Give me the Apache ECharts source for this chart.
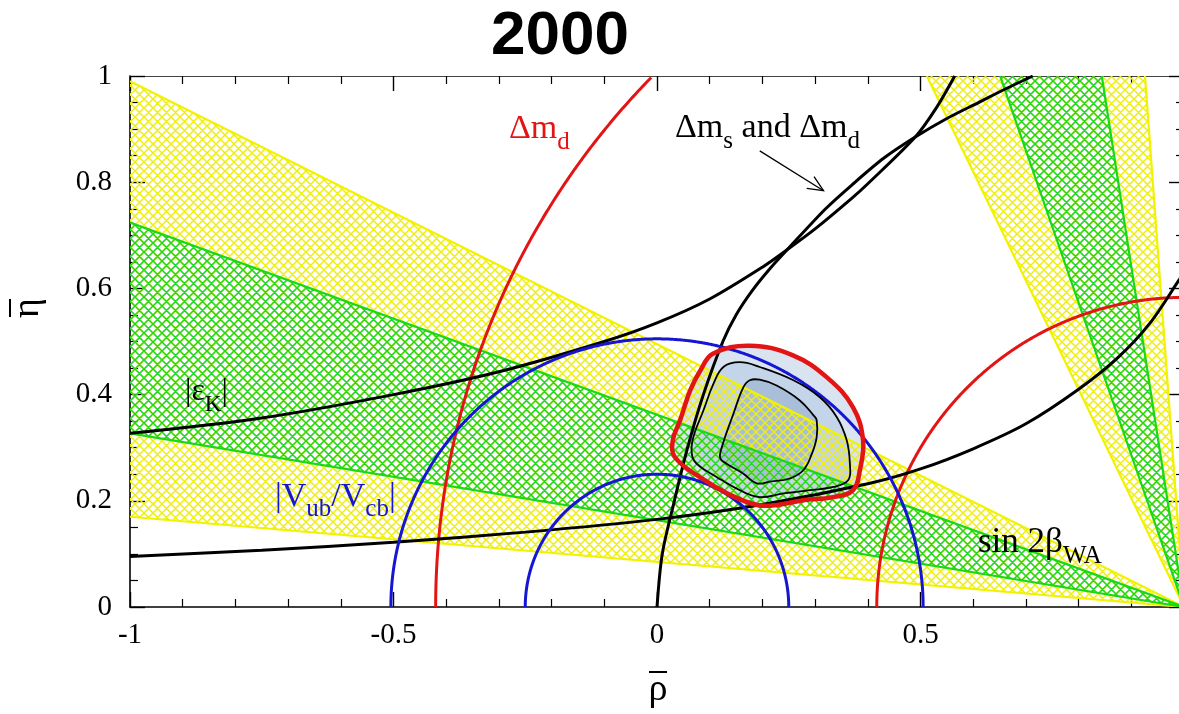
<!DOCTYPE html>
<html><head><meta charset="utf-8">
<script src="https://cdn.jsdelivr.net/npm/echarts@6/dist/echarts.min.js"></script>
<style>html,body{margin:0;padding:0;background:#fff;overflow:hidden}#c{width:1187px;height:714px}</style>
</head><body><div id="c"></div>
<script>
// ---------------- DATA ----------------
const title = '2000';
const xTickValues = [-1, -0.5, 0, 0.5, 1];
const yTickValues = [0, 0.2, 0.4, 0.6, 0.8, 1];

// sin 2beta wedges: polygon vertices (rho, eta), apex at (1,0)
const sin2bYellowLow  = [[-1, 0.99], [1, 0], [-1, 0.17]];
const sin2bGreenLow   = [[-1, 0.724], [1, 0], [-1, 0.327]];
const sin2bYellowHigh = [[0.512, 1], [1, 0], [0.926, 1]];
const sin2bGreenHigh  = [[0.651, 1], [1, 0], [0.844, 1]];

// |eps_K| hyperbola boundaries
const epsKLower = [[-1,0.095],[-0.75,0.107],[-0.5,0.122],[-0.25,0.141],[0,0.165],[0.2,0.193],[0.4,0.232],[0.5,0.26],[0.6,0.298],[0.7,0.345],[0.8,0.41],[0.875,0.47],[0.935,0.534],[0.99,0.615],[1,0.632]];
const epsKUpper = [[-1,0.327],[-0.75,0.356],[-0.5,0.400],[-0.3,0.443],[-0.1,0.50],[0,0.535],[0.1,0.58],[0.2,0.64],[0.25,0.675],[0.3,0.712],[0.37,0.77],[0.4,0.797],[0.49,0.885],[0.53,0.94],[0.565,1.0]];
// Delta m_s and Delta m_d bound
const dmsCurve = [[0,0],[0.01,0.1],[0.033,0.2],[0.058,0.3],[0.088,0.4],[0.125,0.5],[0.15,0.55],[0.18,0.595],[0.215,0.638],[0.25,0.676],[0.32,0.75],[0.37,0.795],[0.43,0.845],[0.49,0.885],[0.55,0.92],[0.61,0.95],[0.66,0.975],[0.713,1.0]];

// circles: centre and radius
const dmdCentre = [1, 0];
const dmdRadii = [1.42, 0.583];
const vubCentre = [0, 0];
const vubRadii = [0.25, 0.505];

// fit contours
const contourOuter = [[0.106,0.477],[0.176,0.492],[0.258,0.474],[0.323,0.432],[0.372,0.376],[0.391,0.314],[0.385,0.258],[0.372,0.220],[0.334,0.207],[0.277,0.201],[0.228,0.192],[0.190,0.192],[0.139,0.211],[0.082,0.244],[0.034,0.282],[0.030,0.314],[0.044,0.352],[0.063,0.408],[0.082,0.445]];
const contourMiddle = [[0.126,0.452],[0.157,0.461],[0.195,0.452],[0.259,0.427],[0.309,0.395],[0.341,0.358],[0.360,0.314],[0.366,0.270],[0.363,0.239],[0.335,0.226],[0.290,0.220],[0.240,0.214],[0.195,0.207],[0.157,0.220],[0.113,0.245],[0.075,0.270],[0.066,0.289],[0.069,0.320],[0.088,0.370],[0.107,0.420]];
const contourInner = [[0.176,0.427],[0.195,0.428],[0.227,0.417],[0.271,0.389],[0.297,0.361],[0.303,0.352],[0.303,0.320],[0.294,0.289],[0.278,0.258],[0.252,0.242],[0.214,0.236],[0.189,0.233],[0.164,0.251],[0.132,0.270],[0.120,0.280],[0.123,0.301],[0.145,0.364],[0.164,0.414]];

// annotation arrow (tail, head)
const arrowTail = [0.195, 0.859];
const arrowHead = [0.316, 0.784];

// label texts: [piece, isSubscript]
const labelDmd   = [['Δm', 0], ['d', 1]];
const labelDmsDmd= [['Δm', 0], ['s', 1], [' and Δm', 0], ['d', 1]];
const labelEpsK  = [['|ε', 0], ['K', 1], ['|', 0]];
const labelVub   = [['|V', 0], ['ub', 1], ['/V', 0], ['cb', 1], ['|', 0]];
const labelSin2b = [['sin 2β', 0], ['WA', 1]];

// ---------------- STYLE / LAYOUT ----------------
const RED = '#e31414', BLUE = '#1616d2', YEL = '#f2f200', GRN = '#18d818', BLK = '#000';
const SERIF = '"Liberation Serif", "Times New Roman", serif';

function hatch(color, s, lw) {
  const c = document.createElement('canvas'); c.width = s; c.height = s;
  const g = c.getContext('2d'); g.strokeStyle = color; g.lineWidth = lw;
  g.beginPath();
  for (const k of [-s, 0, s]) { g.moveTo(k, 0); g.lineTo(k + s, s); g.moveTo(k + s, 0); g.lineTo(k, s); }
  g.stroke(); return c;
}
const yelPat = { image: hatch('#eeee10', 9, 1.5), repeat: 'repeat' };
const grnPat = { image: hatch('#22d622', 9, 1.5), repeat: 'repeat' };

function polySeries(pts, style, z, smooth, closed) {
  return { type: 'custom', coordinateSystem: 'cartesian2d', z: z, silent: true, clip: true, animation: false,
    data: [0],
    renderItem: (p, api) => ({ type: closed ? 'polygon' : 'polyline',
      shape: { points: pts.map(q => api.coord(q)), smooth: smooth || 0 }, style: style }) };
}
function lineSeries(pts, color, width, z) {
  return { type: 'line', data: pts, smooth: 0.3, showSymbol: false, symbol: 'none', z: z, silent: true,
    animation: false, lineStyle: { color: color, width: width }, clip: true };
}
function circleSeries(centre, r, color, width, z) {
  return { type: 'custom', coordinateSystem: 'cartesian2d', z: z, silent: true, clip: true, animation: false,
    data: [0],
    renderItem: (p, api) => {
      const pts = [];
      for (let a = 0; a <= 180; a += 0.2) {
        const t = a * Math.PI / 180;
        const x = centre[0] + r * Math.cos(t), y = centre[1] + r * Math.sin(t);
        if (x >= -1 && x <= 1 && y >= 0 && y <= 1) pts.push(api.coord([x, y]));
      }
      return { type: 'polyline', shape: { points: pts }, style: { stroke: color, lineWidth: width, fill: null } };
    } };
}

const mctx = document.createElement('canvas').getContext('2d');
function textWidth(t, font) { mctx.font = font; return mctx.measureText(t).width; }
function labelGroup(parts, x, y, color, size, subSize, subDy) {
  const children = []; let cx = 0;
  for (const [t, sub] of parts) {
    const fs = sub ? subSize : size;
    const font = fs + 'px ' + SERIF;
    children.push({ type: 'text', x: cx, y: sub ? subDy : 0, z: 100, zlevel: 1,
      style: { text: t, fill: color, font: font, textAlign: 'left', textVerticalAlign: 'middle' } });
    cx += textWidth(t, font);
  }
  return { type: 'group', x: x, y: y, z: 100, zlevel: 1, children: children };
}

const axisCommon = {
  type: 'value', splitLine: { show: false },
  axisLine: { onZero: false, lineStyle: { color: BLK, width: 1.6 } },
  axisTick: { inside: true, length: 15, lineStyle: { color: BLK, width: 1.4 } },
  minorTick: { show: true, length: 8, lineStyle: { color: BLK, width: 1.2 } }
};

const series = [
  // contour fills
  polySeries(contourOuter, { fill: '#dae4f1', stroke: null }, 1, 0.4, true),
  polySeries(contourMiddle, { fill: '#c4d4e9', stroke: null }, 1, 0.4, true),
  polySeries(contourInner, { fill: '#a9bed8', stroke: null }, 1, 0.4, true),
  // hatched wedges
  polySeries(sin2bYellowLow, { fill: yelPat, stroke: null }, 2, 0, true),
  polySeries(sin2bYellowHigh, { fill: yelPat, stroke: null }, 2, 0, true),
  polySeries(sin2bGreenLow, { fill: grnPat, stroke: null }, 3, 0, true),
  polySeries(sin2bGreenHigh, { fill: grnPat, stroke: null }, 3, 0, true),
  // wedge edges
  polySeries(sin2bYellowLow, { fill: null, stroke: YEL, lineWidth: 2.2 }, 4, 0, false),
  polySeries(sin2bYellowHigh, { fill: null, stroke: YEL, lineWidth: 2.2 }, 4, 0, false),
  polySeries(sin2bGreenLow, { fill: null, stroke: GRN, lineWidth: 2.2 }, 5, 0, false),
  polySeries(sin2bGreenHigh, { fill: null, stroke: GRN, lineWidth: 2.2 }, 5, 0, false),
  // curves
  lineSeries(epsKLower, BLK, 3, 6),
  lineSeries(epsKUpper, BLK, 3, 6),
  lineSeries(dmsCurve, BLK, 3, 6),
  circleSeries(dmdCentre, dmdRadii[0], RED, 3, 6),
  circleSeries(dmdCentre, dmdRadii[1], RED, 3, 6),
  circleSeries(vubCentre, vubRadii[0], BLUE, 3, 7),
  circleSeries(vubCentre, vubRadii[1], BLUE, 3, 7),
  // contour lines
  polySeries(contourOuter, { fill: null, stroke: RED, lineWidth: 4.5 }, 8, 0.4, true),
  polySeries(contourMiddle, { fill: null, stroke: BLK, lineWidth: 1.8 }, 8, 0.4, true),
  polySeries(contourInner, { fill: null, stroke: BLK, lineWidth: 1.8 }, 8, 0.4, true),
  // arrow
  { type: 'custom', coordinateSystem: 'cartesian2d', z: 9, silent: true, clip: false, animation: false, data: [0],
    renderItem: (p, api) => {
      const a = api.coord(arrowTail), b = api.coord(arrowHead);
      const ang = Math.atan2(b[1] - a[1], b[0] - a[0]), L = 17, w = 0.42;
      return { type: 'group', children: [
        { type: 'line', shape: { x1: a[0], y1: a[1], x2: b[0], y2: b[1] }, style: { stroke: BLK, lineWidth: 1.3 } },
        { type: 'polyline', shape: { points: [
          [b[0] - L * Math.cos(ang - w), b[1] - L * Math.sin(ang - w)], b,
          [b[0] - L * Math.cos(ang + w), b[1] - L * Math.sin(ang + w)]] }, style: { stroke: BLK, lineWidth: 1.3, fill: null } }
      ] };
    } }
];

const chart = echarts.init(document.getElementById('c'));
chart.setOption({
  backgroundColor: '#fff',
  animation: false,
  grid: { left: 130, right: 2, top: 76, bottom: 107, containLabel: false },
  xAxis: [
    Object.assign({}, axisCommon, { min: xTickValues[0], max: xTickValues[xTickValues.length - 1], interval: 0.5, position: 'bottom',
      minorTick: Object.assign({}, axisCommon.minorTick, { splitNumber: 5 }),
      axisLabel: { color: BLK, fontFamily: SERIF, fontSize: 29, margin: 14, formatter: v => (v === 1 ? '' : String(v)) } }),
    Object.assign({}, axisCommon, { min: xTickValues[0], max: xTickValues[xTickValues.length - 1], interval: 0.5, position: 'top',
      minorTick: Object.assign({}, axisCommon.minorTick, { splitNumber: 5 }),
      axisLine: { onZero: false, lineStyle: { color: '#444', width: 1.2 } },
      axisLabel: { show: false } })
  ],
  yAxis: [
    Object.assign({}, axisCommon, { min: yTickValues[0], max: yTickValues[yTickValues.length - 1], interval: 0.2, position: 'left',
      minorTick: Object.assign({}, axisCommon.minorTick, { splitNumber: 4 }),
      axisLabel: { color: BLK, fontFamily: SERIF, fontSize: 29, margin: 18 } }),
    Object.assign({}, axisCommon, { min: yTickValues[0], max: yTickValues[yTickValues.length - 1], interval: 0.2, position: 'right',
      minorTick: Object.assign({}, axisCommon.minorTick, { splitNumber: 4 }),
      axisLabel: { show: false } })
  ],
  series: series,
  graphic: [
    { type: 'text', x: 560, y: 37, z: 100, style: { text: title, font: 'bold 62px "Liberation Sans", Arial, sans-serif', fill: BLK, textAlign: 'center', textVerticalAlign: 'middle' } },
    // axis names with overbars
    { type: 'group', x: 658, y: 690, z: 100, children: [
      { type: 'text', style: { text: 'ρ', font: '38px ' + SERIF, fill: BLK, textAlign: 'center', textVerticalAlign: 'middle' } },
      { type: 'line', shape: { x1: -9, y1: -18, x2: 9, y2: -18 }, style: { stroke: BLK, lineWidth: 2 } } ] },
    { type: 'group', x: 28, y: 308, rotation: Math.PI / 2, z: 100, children: [
      { type: 'text', style: { text: 'η', font: '38px ' + SERIF, fill: BLK, textAlign: 'center', textVerticalAlign: 'middle' } },
      { type: 'line', shape: { x1: -9, y1: -18, x2: 9, y2: -18 }, style: { stroke: BLK, lineWidth: 2 } } ] },
    labelGroup(labelDmd, 509, 129, RED, 34, 25, 13),
    labelGroup(labelDmsDmd, 675, 128, BLK, 34, 25, 13),
    labelGroup(labelEpsK, 185, 392, BLK, 32, 23, 13),
    labelGroup(labelVub, 275, 497, BLUE, 34, 25, 12),
    labelGroup(labelSin2b, 978, 543, BLK, 35, 25, 13)
  ]
});
</script></body></html>
